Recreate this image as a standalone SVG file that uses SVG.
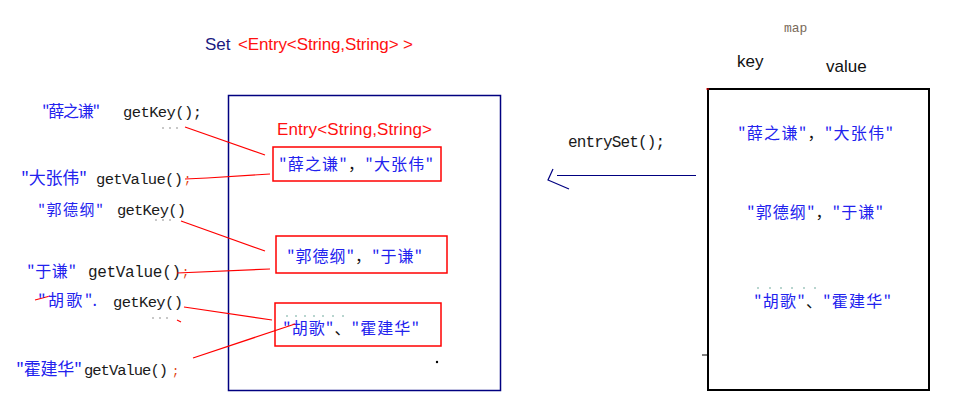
<svg xmlns="http://www.w3.org/2000/svg" width="965" height="402" viewBox="0 0 965 402">
<style>
.cjk{font-family:"Noto Sans CJK SC","Liberation Sans",sans-serif;font-size:16px;fill:#2222ee}
.blk{fill:#111}
.mono{font-family:"Liberation Mono","DejaVu Sans Mono",monospace;font-size:15.5px;fill:#1a1a1a}
.sans{font-family:"Liberation Sans","Noto Sans",sans-serif;font-size:17px}
.red{fill:#ff1010}
.semi{font-family:"Liberation Mono",monospace;font-size:12px;fill:#e04010}
.con{stroke:#ff0000;stroke-width:1.2;fill:none}
.ebox{fill:none;stroke:#ff0000;stroke-width:1.5}
.dot{fill:#666}
.tdot{fill:#3a8a7a}
</style>
<rect width="965" height="402" fill="#fff"/>

<g id="set-title">
<text class="sans" x="205" y="50" fill="#1a1a80">Set</text>
<text class="sans red" x="238" y="50" textLength="175">&lt;Entry&lt;String,String&gt; &gt;</text>
</g>

<g id="set-box">
<rect x="228.5" y="95.5" width="272" height="295" fill="none" stroke="#000080" stroke-width="1.5"/>
<text class="sans red" x="277" y="135" textLength="155">Entry&lt;String,String&gt;</text>
<circle cx="437" cy="362" r="1.2" fill="#000"/>
</g>

<g id="entry1">
<rect class="ebox" x="273" y="147" width="168" height="34"/>
<text class="cjk" x="279" y="170" textLength="154">"薛之谦"<tspan class="blk">，</tspan>"大张伟"</text>
</g>
<g id="entry2">
<rect class="ebox" x="276" y="236" width="171" height="37"/>
<text class="cjk" x="287" y="262" textLength="135">"郭德纲"<tspan class="blk">，</tspan>"于谦"</text>
</g>
<g id="entry3">
<rect class="ebox" x="275" y="303" width="166" height="43"/>
<text class="cjk" x="283" y="334" textLength="136">"胡歌"<tspan class="blk">、</tspan>"霍建华"</text>
<g class="tdot"><circle cx="287" cy="316" r="0.7"/><circle cx="296" cy="316" r="0.7"/><circle cx="305" cy="316" r="0.7"/><circle cx="314" cy="316" r="0.7"/><circle cx="323" cy="316" r="0.7"/><circle cx="333" cy="316" r="0.7"/><circle cx="343" cy="316" r="0.7"/></g>
</g>

<g id="label1">
<text class="cjk" x="42" y="117" textLength="58">"薛之谦"</text>
<text class="mono" x="123" y="117" textLength="79">getKey();</text>
<g class="dot"><circle cx="163" cy="128" r="0.7"/><circle cx="170" cy="128" r="0.7"/><circle cx="177" cy="128" r="0.7"/></g>
</g>
<g id="label2">
<text class="cjk" x="21" y="184" textLength="66" style="font-size:17px">"大张伟"</text>
<text class="mono" x="96" y="184" textLength="87">getValue()</text>
<text class="semi" x="184" y="183">;</text>
</g>
<g id="label3">
<text class="cjk" x="38" y="215" textLength="65" style="font-size:15px">"郭德纲"</text>
<text class="mono" x="117" y="215" textLength="69">getKey()</text>
<g class="dot"><circle cx="156" cy="220" r="0.7"/><circle cx="163" cy="220" r="0.7"/><circle cx="170" cy="220" r="0.7"/></g>
</g>
<g id="label4">
<text class="cjk" x="27" y="277" textLength="49">"于谦"</text>
<text class="mono" x="88" y="277" textLength="93" style="font-size:16px">getValue()</text>
<text class="semi" x="182" y="276">;</text>
</g>
<g id="label5">
<path d="M35 300 L50 296" stroke="#ff0000" stroke-width="1.2"/>
<text class="cjk" x="38" y="306" textLength="59">"胡歌".</text>
<text class="mono" x="113" y="307" textLength="70">getKey()</text>
<g class="dot"><circle cx="153" cy="318" r="0.7"/><circle cx="160" cy="318" r="0.7"/><circle cx="167" cy="318" r="0.7"/></g>
</g>
<g id="label6">
<text class="cjk" x="16" y="375" textLength="66" style="font-size:17px">"霍建华"</text>
<text class="mono" x="84" y="375" textLength="84">getValue()</text>
<text class="semi" x="172" y="375">;</text>
</g>

<g id="connectors">
<path class="con" d="M185 127 L265 155"/>
<path class="con" d="M185 179 L207 178 L270 174"/>
<path class="con" d="M181 221 L265 251"/>
<path class="con" d="M177 273 L270 269"/>
<path class="con" d="M184 307 L272 320"/>
<path class="con" d="M177 320 L181 322"/>
<path class="con" d="M193 358 L295 324"/>
<path d="M557 175.5 L696 175.5" stroke="#000080" stroke-width="1.2" fill="none"/>
<path d="M553 169 L548 180 L569 189" stroke="#000080" stroke-width="1.2" fill="none"/>
</g>

<g id="entryset-label">
<text class="mono" x="568" y="147" style="font-size:16px" textLength="97" fill="#1a1a1a">entrySet();</text>
</g>

<g id="map-box">
<text x="784" y="32" style="font-family:'Liberation Mono',monospace;font-size:13px" fill="#7a6a5a">map</text>
<text class="sans" x="737" y="67" fill="#111">key</text>
<text class="sans" x="826" y="72" fill="#111">value</text>
<rect x="708" y="89" width="221" height="301" fill="none" stroke="#000" stroke-width="2"/>
<path d="M706 89 L709 89" stroke="#ff0000" stroke-width="1"/>
<path d="M702 355 L708 355" stroke="#000" stroke-width="1"/>
<text class="cjk" x="738" y="139" textLength="155">"薛之谦"<tspan class="blk">，</tspan>"大张伟"</text>
<text class="cjk" x="747" y="218" textLength="136">"郭德纲"<tspan class="blk">，</tspan>"于谦"</text>
<g class="tdot"><circle cx="758" cy="288" r="0.7"/><circle cx="770" cy="288" r="0.7"/><circle cx="781" cy="288" r="0.7"/><circle cx="792" cy="288" r="0.7"/><circle cx="804" cy="288" r="0.7"/><circle cx="815" cy="288" r="0.7"/></g>
<text class="cjk" x="754" y="307" textLength="137">"胡歌"<tspan class="blk">、</tspan>"霍建华"</text>
</g>
</svg>
